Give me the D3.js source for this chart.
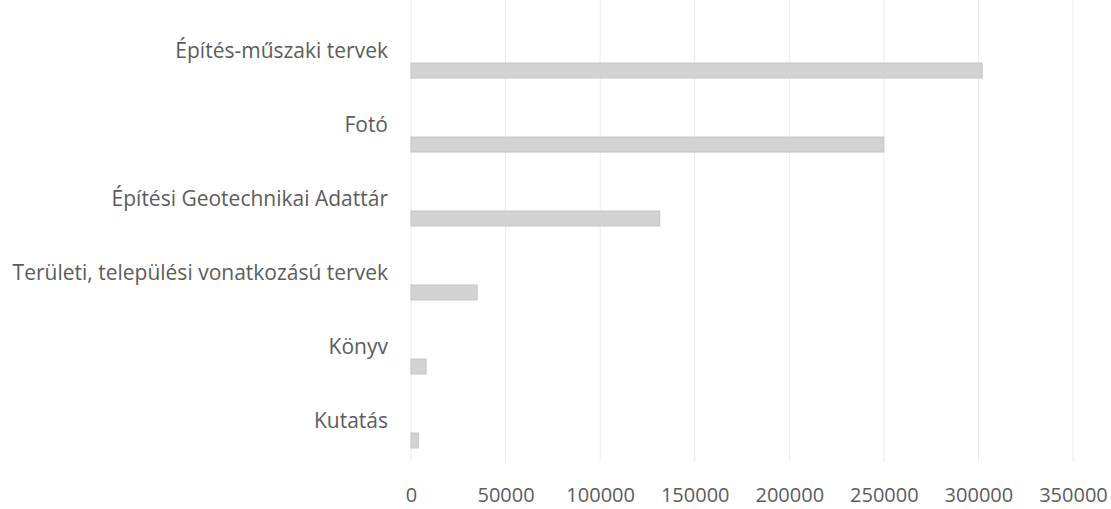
<!DOCTYPE html>
<html><head><meta charset="utf-8">
<script src="https://cdn.jsdelivr.net/npm/d3@7"></script>
<style>body{margin:0;background:#fff}svg{display:block}</style>
</head><body><svg id="c" width="1111" height="509"></svg>
<script>
const categories = ["Építés-műszaki tervek","Fotó","Építési Geotechnikai Adattár","Területi, települési vonatkozású tervek","Könyv","Kutatás"];
const values = [302000, 250000, 131500, 35000, 8000, 4000];
const tickValues = [0,50000,100000,150000,200000,250000,300000,350000];

const svg = d3.select("#c");
const x = d3.scaleLinear().domain([0,350000]).range([411,1073]);
const y = d3.scaleBand().domain(categories).range([33.4,477.6]).paddingInner(0.797).paddingOuter(0.4);

svg.append("g").selectAll("line").data(tickValues).join("line")
  .attr("x1",d=>x(d)).attr("x2",d=>x(d)).attr("y1",0).attr("y2",462)
  .attr("stroke","#ebebeb").attr("stroke-width",1);

svg.append("g").selectAll("rect").data(values).join("rect")
  .attr("x",x(0)).attr("y",(d,i)=>y(categories[i]))
  .attr("width",d=>x(d)-x(0)).attr("height",y.bandwidth())
  .attr("fill","#d3d3d3").attr("stroke","#c6c6c6").attr("stroke-width",1);

svg.append("g").selectAll("text").data(categories).join("text")
  .attr("x",388).attr("y",d=>y(d)-5)
  .attr("text-anchor","end")
  .attr("font-family","Open Sans").attr("font-size",21).attr("fill","#5c5c5c")
  .text(d=>d);

const axis = d3.axisBottom(x).tickValues(tickValues).tickFormat(d3.format("d")).tickSize(0).tickPadding(0);
const ag = svg.append("g").attr("transform","translate(0,502)").call(axis);
ag.select(".domain").remove();
ag.selectAll("text").attr("y",0).attr("dy",0)
  .attr("font-family","Open Sans").attr("font-size",20).attr("fill","#5c5c5c");
</script></body></html>
